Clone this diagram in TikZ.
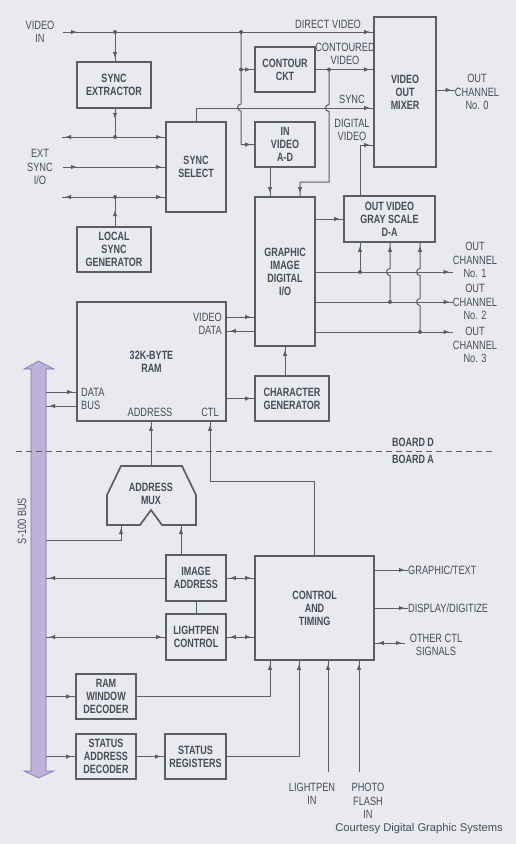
\documentclass[tikz,border=0pt]{standalone}
\usepackage{fontspec}
\setmainfont{Liberation Sans}[FakeStretch=0.77]
\newfontfamily\blkfont{Liberation Sans}[FakeStretch=0.75]
\newfontfamily\creditfont{Liberation Sans}
\usetikzlibrary{positioning,calc,arrows.meta,decorations.markings}
\definecolor{paper}{RGB}{233,234,239}
\definecolor{wirec}{RGB}{92,94,102}
\definecolor{ink}{RGB}{72,76,88}
\definecolor{busfill}{RGB}{188,178,218}
\definecolor{busedge}{RGB}{128,118,168}

\begin{document}
\begin{tikzpicture}[x=1pt,y=-1pt,
  blk/.style={draw=wirec,line width=1.7pt,align=center,text=ink,inner sep=0pt,
              font=\blkfont\bfseries\fontsize{12}{13}\selectfont},
  blktxt/.style={align=center,text=ink,inner sep=0pt,
              font=\blkfont\bfseries\fontsize{12}{13}\selectfont},
  lbl/.style={align=center,text=ink,inner sep=0pt,font=\fontsize{12}{13.5}\selectfont},
  wire/.style={draw,color=wirec,line width=1pt},
  tipat/.style={postaction={decorate,decoration={markings,
      mark=at position #1 with {\arrow{Latex[length=6pt,width=4.5pt]}}}}},
  backat/.style={postaction={decorate,decoration={markings,
      mark=at position #1 with {\arrowreversed{Latex[length=6pt,width=4.5pt]}}}}},
  arr/.style={wire,tipat=-3pt},
  dbl/.style={wire,tipat=-3pt,backat=3pt},
  jdot/.style={fill=wirec},
  boardline/.style={color=wirec,line width=1pt,dash pattern=on 6pt off 4pt}]

  \fill[paper] (0,0) rectangle (516,844);
  \useasboundingbox (0,0) rectangle (516,844);

  % board D
  \node[blk,minimum width=74,minimum height=46] (sext) at (114,85) {SYNC\\EXTRACTOR};
  \node[blk,minimum width=60,minimum height=90] (ssel) at (196,167) {SYNC\\SELECT};
  \node[blk,minimum width=74,minimum height=45] (lsg) at (114,249.5) {LOCAL\\SYNC\\GENERATOR};
  \node[blk,minimum width=60,minimum height=45] (cont) at (285,69.5) {CONTOUR\\CKT};
  \node[blk,minimum width=60,minimum height=45] (inad) at (285,144.5) {IN\\VIDEO\\A-D};
  \node[blk,minimum width=62,minimum height=150] (mixer) at (405,92) {VIDEO\\OUT\\MIXER};
  \node[blk,minimum width=60,minimum height=149] (gidio) at (285,271.5) {GRAPHIC\\IMAGE\\DIGITAL\\I/O};
  \node[blk,minimum width=91,minimum height=46] (gray) at (389.5,219) {OUT VIDEO\\GRAY SCALE\\D-A};
  \node[blk,minimum width=149,minimum height=119] (ram) at (151.5,361.5) {32K-BYTE\\RAM};
  \node[blk,minimum width=74,minimum height=45] (cgen) at (292,398.5) {CHARACTER\\GENERATOR};

  % board A
  \node[blk,minimum width=60,minimum height=46] (imaddr) at (196,578) {IMAGE\\ADDRESS};
  \node[blk,minimum width=60,minimum height=46] (lpctl) at (196,637) {LIGHTPEN\\CONTROL};
  \node[blk,minimum width=119,minimum height=104] (ctl) at (314.5,608) {CONTROL\\AND\\TIMING};
  \node[blk,minimum width=60,minimum height=45] (rwd) at (106,696.5) {RAM\\WINDOW\\DECODER};
  \node[blk,minimum width=60,minimum height=45] (sad) at (106,756.5) {STATUS\\ADDRESS\\DECODER};
  \node[blk,minimum width=61,minimum height=45] (sreg) at (195.5,756.5) {STATUS\\REGISTERS};
  \draw[draw=wirec,line width=1.7pt] (121,466) -- (182,466) -- (196,495) -- (196,525)
    -- (162,525) -- (151,510) -- (140,525) -- (107,525) -- (107,495) -- cycle;
  \node[blktxt] (mux) at (151,494) {ADDRESS\\MUX};

  % labels
  \node[lbl] (vidin) at (40,32) {VIDEO\\IN};
  \node[lbl] (extsync) at (40,167) {EXT\\SYNC\\I/O};
  \node[lbl] at (328,24) {DIRECT VIDEO};
  \node[lbl] at (345,54) {CONTOURED\\VIDEO};
  \node[lbl] at (352,99) {SYNC};
  \node[lbl] at (352,130) {DIGITAL\\VIDEO};
  \node[lbl] (out0) at (477,92) {OUT\\CHANNEL\\No. 0};
  \node[lbl] (out1) at (475,260) {OUT\\CHANNEL\\No. 1};
  \node[lbl] (out2) at (475,302) {OUT\\CHANNEL\\No. 2};
  \node[lbl] (out3) at (475,345) {OUT\\CHANNEL\\No. 3};
  \node[lbl,anchor=east,align=right] at (222,324) {VIDEO\\DATA};
  \node[lbl,anchor=west,align=left] at (81,399) {DATA\\BUS};
  \node[lbl] at (150,412) {ADDRESS};
  \node[lbl] at (210,412) {CTL};
  \node[blktxt] at (413,442) {BOARD D};
  \node[blktxt] at (413,459) {BOARD A};
  \node[lbl,rotate=90] (buslbl) at (22,521) {S-100 BUS};
  \node[lbl,anchor=west] (gtxt) at (408,570) {GRAPHIC/TEXT};
  \node[lbl,anchor=west] (dig) at (408,608) {DISPLAY/DIGITIZE};
  \node[lbl] (octl) at (436,645) {OTHER CTL\\SIGNALS};
  \node[lbl] (lpin) at (312,794) {LIGHTPEN\\IN};
  \node[lbl] (pfin) at (368,801) {PHOTO\\FLASH\\IN};
  \node[anchor=east,inner sep=0pt,text=ink,font=\creditfont\fontsize{11.2}{13}\selectfont]
    (credit) at (503,829) {Courtesy Digital Graphic Systems};

  % S-100 bus
  \filldraw[fill=busfill,draw=busedge,line width=0.6pt]
    (24,369) -- (38.5,361) -- (54,369) -- (46,369) -- (46,771) -- (54,771)
    -- (38.5,778) -- (24,771) -- (31,771) -- (31,369) -- cycle;
  \coordinate (busR) at (46,570);

  % board divider
  \coordinate (bdL) at (16,451);
  \coordinate (bdR) at (495,451);
  \draw[boardline] (bdL) -- (bdR);

  % video input and sync
  \coordinate (vin) at (63,32);
  \coordinate (j1) at (115,32);
  \coordinate (j2) at (241,32);
  \coordinate (j3) at (115,137);
  \coordinate (j4) at (115,197);
  \coordinate (j5) at (j2 |- cont.west);
  \draw[arr,tipat=14pt] (vin) -- (vin -| mixer.west);
  \draw[arr] (j1) -- (j1 |- sext.north);
  \draw[wire,tipat=10pt] (j1 |- sext.south) -- (j3);
  \draw[arr] (j3) -- (62,137);
  \draw[arr] (j3) -- (j3 -| ssel.west);
  \draw[arr,tipat=14pt] (63,167) -- (ssel.west |- 0,167);
  \draw[arr] (j4) -- (62,197);
  \draw[arr] (j4) -- (j4 -| ssel.west);
  \draw[wire,tipat=16pt] (j4 |- lsg.north) -- (j4);
  \draw[arr] (ssel.north) -- (196,108) -- (mixer.west |- 0,108);
  \draw[arr] (j2) -- (241,104) arc[start angle=270,end angle=90,radius=3.5]
    -- (j2 |- inad.west) -- (inad.west);
  \draw[arr] (j5) -- (cont.west);

  % contour and digital video
  \coordinate (j6) at (329,69.5);
  \coordinate (cv1) at (329,182);
  \coordinate (cv2) at (300,182);
  \coordinate (dv) at (360,145);
  \draw[arr] (cont.east) -- (mixer.west |- cont.east);
  \draw[arr] (j6) -- (329,104.5) arc[start angle=270,end angle=90,radius=3.5]
    -- (cv1) -- (cv2) -- (cv2 |- gidio.north);
  \draw[arr] ([xshift=-15pt]inad.south) -- ([xshift=-15pt]gidio.north);
  \draw[arr] (gray.north -| dv) -- (dv) -- (dv -| mixer.west);
  \draw[arr] (mixer.east |- 0,90) -- (out0.west |- 0,90);

  % gray scale and output channels
  \coordinate (k1) at (360,272);
  \coordinate (k2) at (390,302);
  \coordinate (k3) at (420,332);
  \draw[arr] (gidio.east |- gray.west) -- (gray.west);
  \draw[arr] (gidio.east |- k1) -- (k1 -| out1.west);
  \draw[arr] (gidio.east |- k2) -- (k2 -| out2.west);
  \draw[arr] (gidio.east |- k3) -- (k3 -| out3.west);
  \draw[arr] (k1) -- (k1 |- gray.south);
  \draw[arr] (k2) -- (390,275.5) arc[start angle=90,end angle=270,radius=3.5] -- (k2 |- gray.south);
  \draw[arr] (k3) -- (420,305.5) arc[start angle=90,end angle=270,radius=3.5]
    -- (420,275.5) arc[start angle=90,end angle=270,radius=3.5] -- (k3 |- gray.south);

  % RAM connections
  \draw[arr] (ram.east |- 0,317) -- (gidio.west |- 0,317);
  \draw[arr] (gidio.west |- 0,331) -- (ram.east |- 0,331);
  \draw[arr] (ram.east |- cgen.west) -- (cgen.west);
  \draw[arr] (gidio.south |- cgen.north) -- (gidio.south);
  \draw[arr] (busR |- 0,392) -- (ram.west |- 0,392);
  \draw[arr] (ram.west |- 0,406) -- (busR |- 0,406);

  % address mux and control
  \coordinate (muxtop) at (151,466);
  \coordinate (muxL) at (121,525);
  \coordinate (muxR) at (181,525);
  \coordinate (mb) at (121,540);
  \coordinate (ct1) at (210,481);
  \draw[arr] (muxtop) -- (muxtop |- ram.south);
  \draw[arr] (ctl.north) -- (ctl.north |- ct1) -- (ct1) -- (ct1 |- ram.south);
  \draw[arr] (busR |- mb) -- (mb) -- (muxL);
  \draw[arr] (imaddr.north -| muxR) -- (muxR);
  \draw[arr] (imaddr.west) -- (busR |- imaddr.west);
  \draw[dbl] (imaddr.east) -- (ctl.west |- imaddr.east);
  \draw[wire] (imaddr.south) -- (lpctl.north);
  \draw[dbl] (busR |- lpctl.west) -- (lpctl.west);
  \draw[dbl] (lpctl.east) -- (ctl.west |- lpctl.east);
  \draw[arr] (ctl.east |- gtxt.west) -- (gtxt.west);
  \draw[arr] (ctl.east |- dig.west) -- (dig.west);
  \draw[dbl] (ctl.east |- 0,643) -- (405,643);

  % decoders and inputs
  \draw[arr] (busR |- rwd.west) -- (rwd.west);
  \draw[arr] (rwd.east) -- ([xshift=-44.5pt]ctl.south |- rwd.east) -- ([xshift=-44.5pt]ctl.south);
  \draw[arr] (busR |- sad.west) -- (sad.west);
  \draw[arr] (sad.east) -- (sreg.west);
  \draw[arr] (sreg.east) -- ([xshift=-15.5pt]ctl.south |- sreg.east) -- ([xshift=-15.5pt]ctl.south);
  \coordinate (lp) at (328,772);
  \coordinate (pf) at (359,772);
  \draw[arr] (lp) -- (lp |- ctl.south);
  \draw[arr] (pf) -- (pf |- ctl.south);

  % junction dots
  \foreach \j in {j1,j2,j3,j4,j5,j6,k1,k2,k3}
    \fill[jdot] (\j) circle (2pt);
\end{tikzpicture}
\end{document}
